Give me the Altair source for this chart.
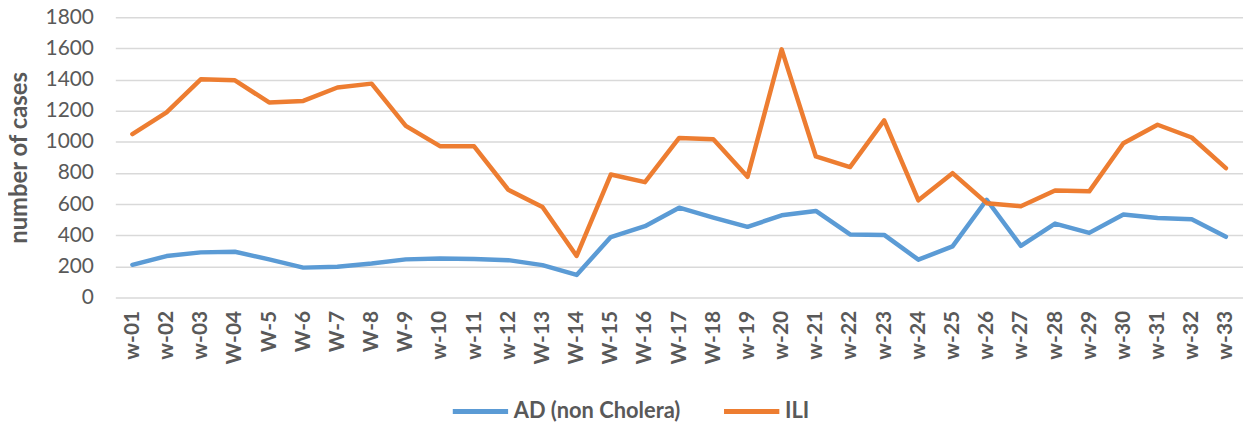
import altair as alt
import pandas as pd

weeks = ["w-01", "w-02", "w-03", "W-04", "W-5", "W-6", "W-7", "W-8", "W-9", "w-10",
         "w-11", "w-12", "W-13", "W-14", "W-15", "W-16", "W-17", "W-18", "w-19", "w-20",
         "w-21", "w-22", "w-23", "w-24", "w-25", "w-26", "w-27", "w-28", "w-29", "w-30",
         "w-31", "w-32", "w-33"]

ad = [210, 266, 290, 294, 245, 192, 198, 219, 245, 251,
      247, 240, 208, 145, 388, 458, 577, 513, 454, 528,
      556, 405, 402, 243, 328, 628, 332, 475, 415, 533,
      511, 503, 390]

ili = [1050, 1190, 1402, 1395, 1253, 1263, 1349, 1374, 1103, 972,
       971, 692, 582, 267, 790, 741, 1025, 1016, 775, 1594,
       906, 838, 1138, 624, 799, 606, 586, 688, 682, 991,
       1110, 1028, 831]

series_names = ["AD (non Cholera)", "ILI"]
series_colors = ["#5B9BD5", "#ED7D31"]

rows = []
for i, w in enumerate(weeks):
    rows.append({"week": w, "series": series_names[0], "value": ad[i], "order": i})
    rows.append({"week": w, "series": series_names[1], "value": ili[i], "order": i})
df = pd.DataFrame(rows)

FONT = "Lato"
GRAY = "#595959"

chart = alt.Chart(df).mark_line(strokeWidth=4.5, strokeCap="round", strokeJoin="round").encode(
    x=alt.X("week:N", sort=weeks, title=None,
            scale=alt.Scale(paddingInner=0, paddingOuter=0),
            axis=alt.Axis(labelAngle=-90, labelFont=FONT, labelFontSize=21, labelFontWeight="bold",
                          labelColor=GRAY, labelPadding=13, ticks=False, domain=False, grid=False)),
    y=alt.Y("value:Q", title="number of cases",
            scale=alt.Scale(domain=[0, 1800], nice=False),
            axis=alt.Axis(values=list(range(0, 1801, 200)), format="d", labelFont=FONT, labelFontSize=21,
                          labelColor=GRAY, labelPadding=22, ticks=False, domain=False,
                          gridColor="#D9D9D9", gridWidth=1.5,
                          titleFont=FONT, titleFontSize=24, titleFontWeight="bold",
                          titleColor=GRAY, titlePadding=14)),
    color=alt.Color("series:N", sort=series_names,
                    scale=alt.Scale(domain=series_names, range=series_colors),
                    legend=alt.Legend(title=None, orient="none", legendX=337, legendY=366,
                                      direction="horizontal", symbolType="stroke",
                                      symbolSize=3100, symbolStrokeWidth=5,
                                      labelFont=FONT, labelFontSize=22, labelFontWeight="bold",
                                      labelColor=GRAY, labelLimit=400,
                                      columnPadding=33, labelOffset=3)),
    order="order:Q",
).properties(
    width=1135, height=282,
    padding={"left": 108, "top": 8, "right": 0, "bottom": 135},
    autosize=alt.AutoSizeParams(type="none"),
).configure_view(stroke=None)

chart.save("out.html", embed_options={"renderer": "svg", "actions": False})
